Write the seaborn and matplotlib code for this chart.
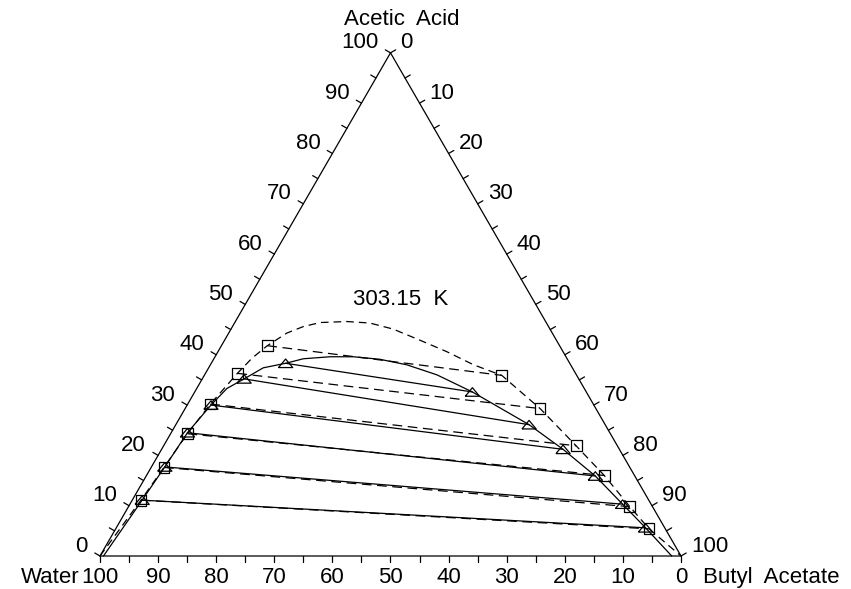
import numpy as np
import pandas as pd
import matplotlib
matplotlib.use("Agg")
import matplotlib.pyplot as plt
import seaborn as sns

# Liquid-liquid equilibrium, water / acetic acid / butyl acetate at 303.15 K
# Compositions in mass %, (acetic acid, butyl acetate); water is the remainder.

# Experimental tie lines (squares, dashed)
exp_raff_acid = [11.1, 17.6, 24.3, 30.2, 36.3, 41.8]
exp_raff_ba = [1.5, 2.2, 2.9, 3.9, 5.5, 7.9]
exp_ext_acid = [5.4, 9.8, 16.0, 21.9, 29.3, 35.9]
exp_ext_ba = [91.8, 86.3, 78.8, 71.0, 61.1, 51.2]

# Calculated tie lines (triangles, solid)
calc_raff_acid = [11.1, 17.7, 24.5, 30.0, 35.2, 38.3]
calc_raff_ba = [1.7, 2.3, 2.8, 4.1, 7.2, 12.8]
calc_ext_acid = [5.6, 10.3, 15.9, 21.2, 26.1, 32.6]
calc_ext_ba = [91.1, 84.8, 77.3, 69.1, 60.8, 47.8]

# Binodal curves, from the water corner to the butyl acetate corner
binodal_exp_acid = [0, 11.1, 17.6, 24.3, 30.2, 36.3, 39.3, 41.8, 44.3, 45.6, 46.4,
                    46.6, 46.3, 45.1, 42.9, 40.6, 38.0, 35.9, 29.3, 21.9, 16.0,
                    9.8, 5.4, 0]
binodal_exp_ba = [0, 1.5, 2.2, 2.9, 3.9, 5.5, 6.5, 7.9, 10.0, 12.2, 14.7,
                  19.2, 23.3, 27.9, 33.6, 39.4, 45.3, 51.2, 61.1, 71.0, 78.8,
                  86.3, 91.8, 100]
binodal_calc_acid = [0, 11.1, 17.7, 24.5, 30.0, 33.3, 35.2, 37.4, 38.3, 39.2, 39.6,
                     39.6, 39.1, 38.0, 36.0, 32.6, 26.1, 21.2, 15.9, 10.3, 5.6, 0]
binodal_calc_ba = [0.6, 1.7, 2.3, 2.8, 4.1, 5.2, 7.2, 9.4, 12.8, 15.4, 19.8,
                   23.8, 28.6, 33.8, 40.0, 47.8, 60.8, 69.1, 77.3, 84.8, 91.1, 98.4]

tick_values = list(range(0, 101, 10))
title_text = "303.15  K"
label_top = "Acetic  Acid"
label_left = "Water"
label_right = "Butyl  Acetate"

H = np.sqrt(3) / 2


def to_xy(acid, ba):
    acid = np.asarray(acid, float) / 100.0
    ba = np.asarray(ba, float) / 100.0
    return ba + acid / 2.0, acid * H


sns.set_theme(style="white")
plt.rcParams["font.family"] = ["Liberation Sans", "DejaVu Sans"]
plt.rcParams["lines.scale_dashes"] = False

W_PX, H_PX = 851, 589
PX = 581.0            # pixels per unit side length
X0, Y0 = 100, 556     # water corner in pixel coordinates (from top)

fig = plt.figure(figsize=(W_PX / 100, H_PX / 100), dpi=100)
ax = fig.add_axes([0, 0, 1, 1])
ax.set_xlim(-X0 / PX, (W_PX - X0) / PX)
ax.set_ylim(-(H_PX - Y0) / PX, Y0 / PX)
ax.set_axis_off()

LW = 0.9
K = "black"
FS = 16

# Triangle frame
corners_x, corners_y = to_xy([0, 0, 100, 0], [0, 100, 0, 0])
frame = pd.DataFrame({"x": corners_x, "y": corners_y})
sns.lineplot(data=frame, x="x", y="y", sort=False, estimator=None,
             color=K, lw=LW, ax=ax)

# Ticks every 5 %, perpendicular to each edge, pointing outward
tl = 6 / PX
tick_rows = []
tid = 0
for v in range(0, 101, 5):
    # bottom edge (water): water = v, acid = 0
    bx, by = to_xy(0, 100 - v)
    tick_rows += [(bx, by, tid), (bx, by - tl, tid)]
    tid += 1
    # left edge (acetic acid): ba = 0
    lx, ly = to_xy(v, 0)
    tick_rows += [(lx, ly, tid), (lx - tl * H, ly + tl * 0.5, tid)]
    tid += 1
    # right edge (butyl acetate): water = 0
    rx, ry = to_xy(100 - v, v)
    tick_rows += [(rx, ry, tid), (rx + tl * H, ry + tl * 0.5, tid)]
    tid += 1
ticks = pd.DataFrame(tick_rows, columns=["x", "y", "tick"])
sns.lineplot(data=ticks, x="x", y="y", units="tick", sort=False,
             estimator=None, color=K, lw=LW, ax=ax)

# Tick labels
for v in tick_values:
    bx, by = to_xy(0, 100 - v)
    ax.text(bx, by - 27 / PX, f"{v}", ha="center", va="baseline",
            fontsize=FS, color=K)
    lx, ly = to_xy(v, 0)
    ax.text(lx - 12 / PX, ly + 4.5 / PX, f"{v}", ha="right", va="baseline",
            fontsize=FS, color=K)
    rx, ry = to_xy(100 - v, v)
    ax.text(rx + 10 / PX, ry + 4.5 / PX, f"{v}", ha="left", va="baseline",
            fontsize=FS, color=K)

# Axis names and temperature
ax.text((402 - X0) / PX, (Y0 - 25) / PX, label_top, ha="center",
        va="baseline", fontsize=FS, color=K)
ax.text((80 - X0) / PX, -27 / PX, label_left, ha="right", va="baseline",
        fontsize=FS, color=K)
ax.text((703 - X0) / PX, -27 / PX, label_right, ha="left", va="baseline",
        fontsize=FS, color=K)
ax.text((401 - X0) / PX, (Y0 - 305) / PX, title_text, ha="center",
        va="baseline", fontsize=FS, color=K)

# Binodal curves
bx, by = to_xy(binodal_exp_acid, binodal_exp_ba)
sns.lineplot(x=bx, y=by, sort=False, estimator=None, color=K, lw=LW,
             linestyle=(0, (5.5, 3.6)), ax=ax)
cx, cy = to_xy(binodal_calc_acid, binodal_calc_ba)
sns.lineplot(x=cx, y=cy, sort=False, estimator=None, color=K, lw=LW, ax=ax)


def tie_frame(r_acid, r_ba, e_acid, e_ba):
    rows = []
    for i, (ra, rb, ea, eb) in enumerate(zip(r_acid, r_ba, e_acid, e_ba)):
        x1, y1 = to_xy(ra, rb)
        x2, y2 = to_xy(ea, eb)
        rows += [(float(x1), float(y1), i), (float(x2), float(y2), i)]
    return pd.DataFrame(rows, columns=["x", "y", "tie"])


exp_ties = tie_frame(exp_raff_acid, exp_raff_ba, exp_ext_acid, exp_ext_ba)
calc_ties = tie_frame(calc_raff_acid, calc_raff_ba, calc_ext_acid, calc_ext_ba)

sns.lineplot(data=exp_ties, x="x", y="y", units="tie", sort=False,
             estimator=None, color=K, lw=LW, linestyle=(0, (7.0, 4.0)), ax=ax)
sns.lineplot(data=calc_ties, x="x", y="y", units="tie", sort=False,
             estimator=None, color=K, lw=LW, ax=ax)

# Markers
tri = [(-1.0, -0.6), (1.0, -0.6), (0.0, 0.6), (-1.0, -0.6)]
for df, mk, size in [(exp_ties, "s", 60), (calc_ties, tri, 105)]:
    n_before = len(ax.collections)
    sns.scatterplot(data=df, x="x", y="y", marker=mk, s=size, ax=ax,
                    color=K, linewidth=LW, zorder=5)
    for coll in ax.collections[n_before:]:
        coll.set_facecolor("none")
        coll.set_edgecolor(K)

fig.savefig("out.png", dpi=100)
